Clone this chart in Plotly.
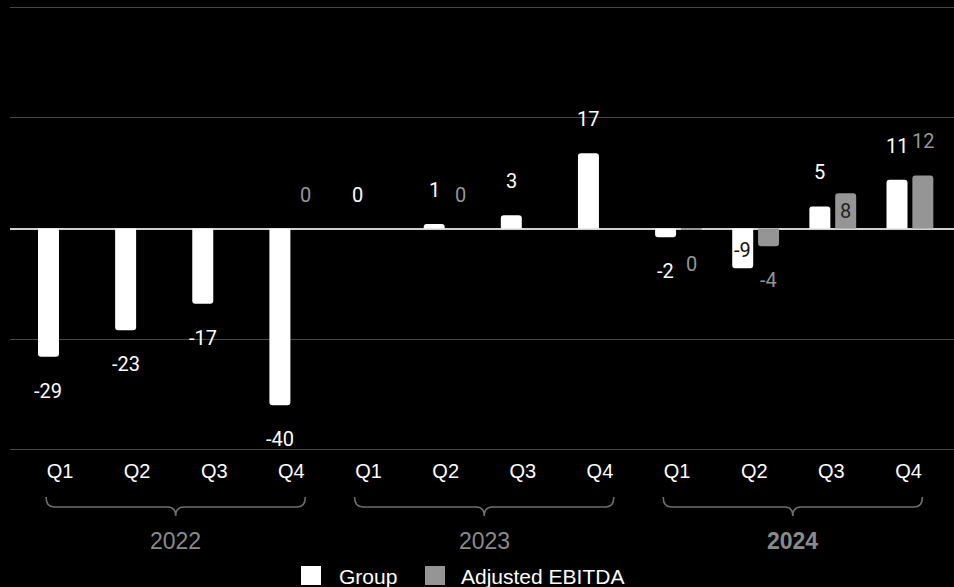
import plotly.graph_objects as go

# ---- data ----
quarters = ["Q1", "Q2", "Q3", "Q4"] * 3
years = ["2022", "2023", "2024"]
group_values = [-29, -23, -17, -40, 0, 1, 3, 17, -2, -9, 5, 11]
adjusted_values = [None, None, None, 0, None, 0, None, None, -0.3, -4, 8, 12]
# where each value label sits: "out" beyond the bar end, "in" inside the bar end
group_label_pos = ["out"] * 9 + ["in", "out", "out"]
adjusted_label_pos = ["out"] * 10 + ["in", "out"]

# ---- style ----
WHITE = "#ffffff"
GRAY = "#959595"
BAR_W = 0.272
G_OFF = -0.285
A_OFF = 0.05
NUM_FONT = "Roboto"
TXT_FONT = "Liberation Sans, Arial"

xs = list(range(len(quarters)))

fig = go.Figure()
fig.add_trace(go.Bar(x=xs, y=group_values, width=BAR_W, offset=G_OFF,
                     marker=dict(color=WHITE, line=dict(width=0)),
                     name="Group", showlegend=False, hoverinfo="skip"))
fig.add_trace(go.Bar(x=xs, y=adjusted_values, width=BAR_W, offset=A_OFF,
                     marker=dict(color=GRAY, line=dict(width=0)),
                     name="Adjusted EBITDA", showlegend=False, hoverinfo="skip"))

annotations = []


def add_labels(values, positions, off, color, in_color):
    for x, v, p in zip(xs, values, positions):
        if v is None:
            continue
        sign = 1 if v >= 0 else -1
        if p == "out":
            shift = 34 * sign
            c = color
        else:
            shift = -18 * sign
            c = in_color
        annotations.append(dict(
            x=x + off + BAR_W / 2, y=v, xref="x", yref="y",
            text=f"{round(v):d}", showarrow=False, yshift=shift,
            xanchor="center", yanchor="middle",
            font=dict(family=NUM_FONT, size=20, color=c)))


add_labels(group_values, group_label_pos, G_OFF, WHITE, "#111111")
add_labels(adjusted_values, adjusted_label_pos, A_OFF, GRAY, "#222222")

# ---- year braces and labels ----
shapes = []
PLOT_TOP, PLOT_BOT = 3, 454  # pixel rows of the plotting area


def py(p):
    return (PLOT_BOT - p) / (PLOT_BOT - PLOT_TOP)


y_top, y_mid, y_bot = py(497), py(507), py(516)
r = 0.105
for g, yr in enumerate(years):
    L = 4 * g - 0.18
    R = 4 * g + 3.18
    C = 4 * g + 1.5
    path = (f"M {L},{y_top} Q {L},{y_mid} {L + r},{y_mid} "
            f"L {C - r},{y_mid} Q {C},{y_mid} {C},{y_bot} "
            f"Q {C},{y_mid} {C + r},{y_mid} "
            f"L {R - r},{y_mid} Q {R},{y_mid} {R},{y_top}")
    shapes.append(dict(type="path", path=path, xref="x", yref="paper",
                       line=dict(color="#6e6e6e", width=1.6)))
    annotations.append(dict(
        x=C, y=py(541), xref="x", yref="paper", showarrow=False,
        text=f"<b>{yr}</b>" if g == 2 else yr,
        xanchor="center", yanchor="middle",
        font=dict(family=TXT_FONT, size=23, color="#8a8a8a")))

# ---- legend (drawn) ----
PX_L, PX_R = 10, 954


def px(p):
    return (p - PX_L) / (PX_R - PX_L)


legend_items = [("Group", WHITE, 301, 337), ("Adjusted EBITDA", GRAY, 425, 459)]
for name, col, sx, tx in legend_items:
    shapes.append(dict(type="rect", xref="paper", yref="paper",
                       x0=px(sx), x1=px(sx + 20), y0=py(566), y1=py(585),
                       fillcolor=col, line=dict(width=0)))
    annotations.append(dict(
        x=px(tx), y=py(576), xref="paper", yref="paper", showarrow=False,
        text=name, xanchor="left", yanchor="middle",
        font=dict(family=TXT_FONT, size=21, color=WHITE)))

fig.update_layout(
    width=954, height=587,
    paper_bgcolor="#000000", plot_bgcolor="#000000",
    margin=dict(l=PX_L, r=954 - PX_R, t=PLOT_TOP, b=587 - PLOT_BOT),
    barmode="overlay", barcornerradius=3,
    showlegend=False,
    shapes=shapes, annotations=annotations,
    xaxis=dict(range=[-0.648, 11.59], tickmode="array", tickvals=xs,
               ticktext=quarters, showgrid=False, zeroline=False,
               showline=False, ticks="", ticklabelstandoff=3,
               tickfont=dict(family=TXT_FONT, size=20, color=WHITE),
               fixedrange=True),
    yaxis=dict(range=[-51, 51], tick0=0, dtick=25, showticklabels=False,
               showgrid=True, gridcolor="#474747", gridwidth=1,
               zeroline=True, zerolinecolor="#d0d0d0", zerolinewidth=1.5,
               fixedrange=True),
)

fig.write_html(
    "out.html",
    config={"displayModeBar": False},
    post_script="document.body.style.margin='0';"
                "document.body.style.background='#000';",
)
